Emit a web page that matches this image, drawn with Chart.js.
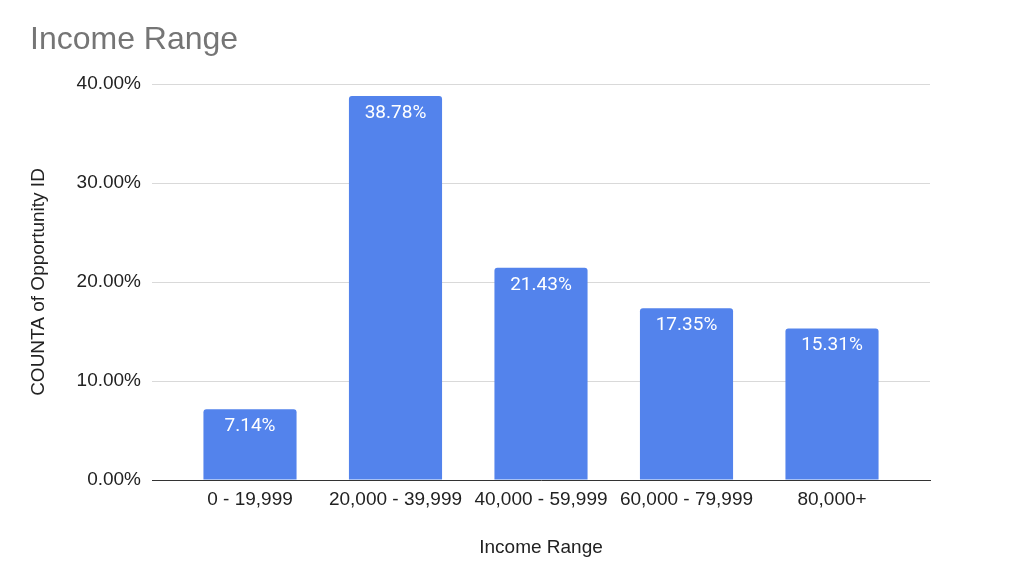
<!DOCTYPE html>
<html>
<head>
<meta charset="utf-8">
<script src="https://cdn.jsdelivr.net/npm/chart.js@4/dist/chart.umd.min.js"></script>
<style>
html,body{margin:0;padding:0;background:#fff;}
#wrap{width:1024px;height:581px;}
</style>
</head>
<body>
<div id="wrap"><canvas id="c" width="1024" height="581"></canvas></div>
<script>
const categories = ["0 - 19,999", "20,000 - 39,999", "40,000 - 59,999", "60,000 - 79,999", "80,000+"];
const shares = [7.14, 38.78, 21.43, 17.35, 15.31];
const yTicks = [0, 10, 20, 30, 40];

const points = categories.map((c, i) => ({ x: i, y: shares[i] }));
const AXIS_FONT = '"Liberation Sans", Arial, sans-serif';

const labelPlugin = {
  id: 'barLabels',
  afterDatasetsDraw(chart) {
    const ctx = chart.ctx;
    const meta = chart.getDatasetMeta(0);
    ctx.save();
    ctx.fillStyle = '#ffffff';
    ctx.font = '19px Roboto, "Liberation Sans", sans-serif';
    ctx.textAlign = 'center';
    ctx.textBaseline = 'middle';
    meta.data.forEach((bar, i) => {
      ctx.fillText(shares[i].toFixed(2) + '%', bar.x, bar.y + 17);
    });
    ctx.restore();
  }
};

new Chart(document.getElementById('c'), {
  type: 'bar',
  data: {
    datasets: [{
      data: points,
      backgroundColor: '#5383ec',
      borderRadius: {topLeft: 3, topRight: 3, bottomLeft: 0, bottomRight: 0},
      borderSkipped: 'bottom',
      categoryPercentage: 0.64,
      barPercentage: 1.0
    }]
  },
  options: {
    responsive: false,
    animation: false,
    devicePixelRatio: 1,
    layout: { padding: { left: 30, right: 94, top: 0, bottom: 22 } },
    plugins: {
      legend: { display: false },
      tooltip: { enabled: false },
      title: {
        display: true,
        text: 'Income Range',
        align: 'start',
        color: '#757575',
        font: { family: AXIS_FONT, size: 32, weight: 'normal' },
        padding: { top: 21, bottom: 24.6 }
      }
    },
    scales: {
      x: {
        type: 'linear',
        offset: false,
        min: -0.6735,
        max: 4.6735,
        afterBuildTicks(axis) { axis.ticks = categories.map((c, i) => ({ value: i })); },
        afterFit(axis) { axis.height = 79; },
        grid: { display: false, drawTicks: false },
        border: { display: true, color: '#333333', width: 1 },
        ticks: {
          color: '#222222',
          padding: 8,
          autoSkip: false,
          maxRotation: 0,
          font: { family: AXIS_FONT, size: 19 },
          callback: (v) => categories[v]
        },
        title: {
          display: true,
          text: 'Income Range',
          color: '#222222',
          font: { family: AXIS_FONT, size: 19 },
          padding: { top: 0, bottom: 0 }
        }
      },
      y: {
        min: 0,
        max: 40,
        afterBuildTicks(axis) { axis.ticks = yTicks.map(v => ({ value: v })); },
        afterFit(axis) { axis.width = 122; },
        grid: { color: '#d9d9d9', drawTicks: false, lineWidth: 1 },
        border: { display: false },
        ticks: {
          color: '#222222',
          padding: 11,
          font: { family: AXIS_FONT, size: 19 },
          callback: (v) => v.toFixed(2) + '%'
        },
        title: {
          display: true,
          text: 'COUNTA of Opportunity ID',
          color: '#222222',
          font: { family: AXIS_FONT, size: 19 },
          padding: { top: -3, bottom: 0 }
        }
      }
    }
  },
  plugins: [labelPlugin]
});
</script>
</body>
</html>
